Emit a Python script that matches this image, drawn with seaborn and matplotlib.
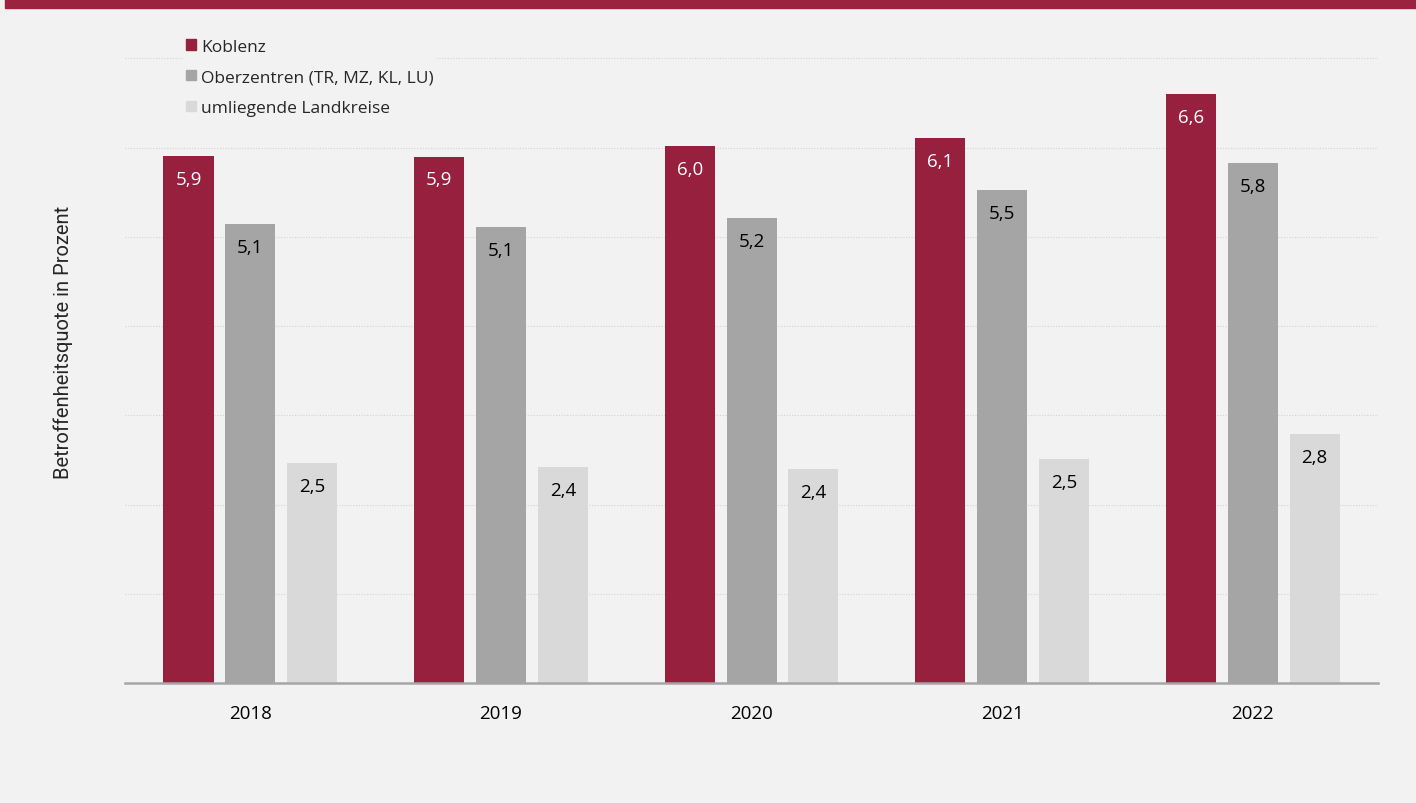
import pandas as pd
import matplotlib.pyplot as plt
import matplotlib.patches as mpatches
import seaborn as sns

# Daten (Balkenhöhen aus der Grafik abgeschätzt, Beschriftung gerundet)
jahre = ['2018', '2019', '2020', '2021', '2022']
serien = ['Koblenz', 'Oberzentren (TR, MZ, KL, LU)', 'umliegende Landkreise']
koblenz = [5.91, 5.90, 6.02, 6.11, 6.60]
oberzentren = [5.14, 5.11, 5.21, 5.52, 5.83]
landkreise = [2.46, 2.42, 2.40, 2.51, 2.79]

farben = ['#96203d', '#a5a5a5', '#d9d9d9']
label_farben = ['white', 'black', 'black']
hintergrund = '#f2f2f2'

df = pd.DataFrame({
    'Jahr': jahre * 3,
    'Serie': [serien[0]] * 5 + [serien[1]] * 5 + [serien[2]] * 5,
    'Wert': koblenz + oberzentren + landkreise,
})

sns.set_theme(style='white')
plt.rcParams['font.family'] = ['Open Sans', 'DejaVu Sans']

fig = plt.figure(figsize=(14.16, 8.04), dpi=100, facecolor=hintergrund)
ax = fig.add_axes([0.0883, 0.1493, 0.8849, 0.8057])
ax.set_facecolor(hintergrund)

sns.barplot(data=df, x='Jahr', y='Wert', hue='Serie', hue_order=serien,
            palette=farben, width=0.74, gap=0.19, ax=ax, legend=False,
            saturation=1, edgecolor='none', zorder=3)

# Werte in die Balken schreiben
for cont, farbe in zip(ax.containers, label_farben):
    werte = [f"{b.get_height():.1f}".replace('.', ',') for b in cont]
    ax.bar_label(cont, labels=werte, padding=-23, color=farbe, fontsize=13.5)

ax.set_ylim(0, 7.26)
ax.set_xlim(-0.5, 4.5)
ax.set_yticks(range(1, 8))
ax.set_yticklabels([])
ax.tick_params(axis='y', length=0)
ax.tick_params(axis='x', length=0, labelsize=13.5, pad=15, colors='black')
ax.grid(axis='y', linestyle=(0, (1, 1.5)), color='#d4d4d4', linewidth=0.8, zorder=0)
ax.set_axisbelow(True)

for s in ['top', 'right', 'left']:
    ax.spines[s].set_visible(False)
ax.spines['bottom'].set_color('#a6a6a6')
ax.spines['bottom'].set_linewidth(1.8)
ax.spines['bottom'].set_zorder(5)

ax.set_xlabel('')
ax.set_ylabel('')
fig.text(0.045, 0.574, 'Betroffenheitsquote in Prozent', rotation=90,
         ha='center', va='center', fontsize=14.5,
         family=['Liberation Sans Narrow', 'Roboto', 'DejaVu Sans'])

# Legende
handles = [mpatches.Patch(color=c, label=s) for c, s in zip(farben, serien)]
leg = ax.legend(handles=handles, loc='upper left', bbox_to_anchor=(0.046, 1.0),
                borderaxespad=0, frameon=True, fontsize=12.5, handlelength=0.55,
                handleheight=0.55, handletextpad=0.3, labelspacing=0.85,
                borderpad=0.2)
leg.get_frame().set_facecolor(hintergrund)
leg.get_frame().set_edgecolor('none')
leg.get_frame().set_alpha(1)

# Titelband oben
fig.patches.append(mpatches.Rectangle((5 / 1416, 1 - 9 / 804), 1, 9 / 804,
                                      transform=fig.transFigure, color='#9b2340',
                                      zorder=10))

fig.savefig('out.png', dpi=100, facecolor=hintergrund)
